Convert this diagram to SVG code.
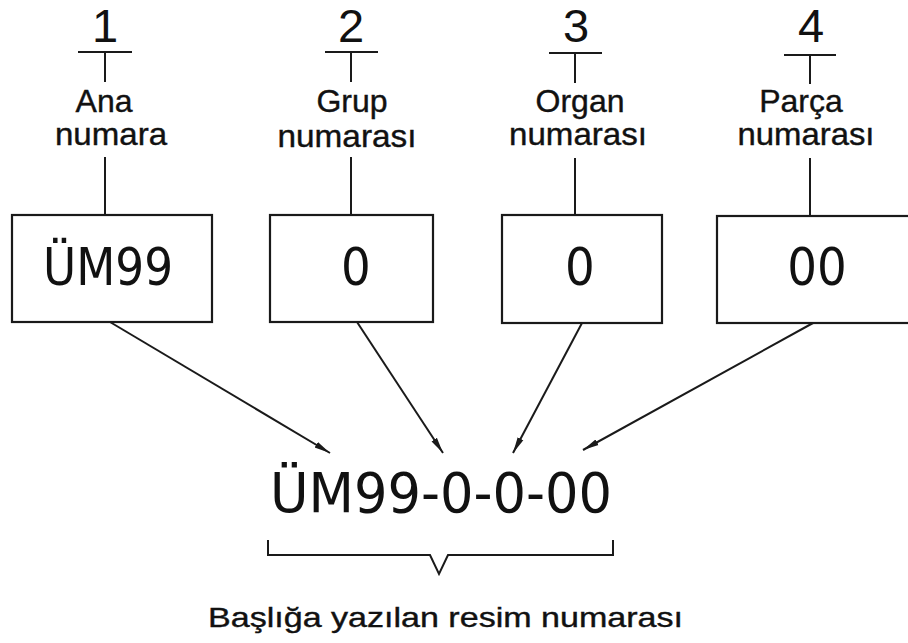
<svg xmlns="http://www.w3.org/2000/svg" width="908" height="643" viewBox="0 0 908 643">
<style>
.ln{stroke:#1a1a1a;stroke-width:2;fill:none}
.box{stroke:#1a1a1a;stroke-width:2.2;fill:#fff}
.num{font-family:"Liberation Sans",Arial,sans-serif;font-size:47px;fill:#111;text-anchor:middle}
.lbl{font-family:"Liberation Sans",Arial,sans-serif;font-size:32px;fill:#111;stroke:#111;stroke-width:0.4;text-anchor:middle}
.code{font-family:"DejaVu Sans Condensed","DejaVu Sans",sans-serif;font-stretch:condensed;fill:#111}
.cap{font-family:"Liberation Sans",Arial,sans-serif;font-size:28px;fill:#111;stroke:#111;stroke-width:0.4}
</style>
<defs>
<marker id="ah" markerUnits="userSpaceOnUse" markerWidth="20" markerHeight="10" refX="16" refY="4" orient="auto">
<path d="M0,0.8 L16,4 L0,7.2 Z" fill="#1a1a1a"/>
</marker>
</defs>
<rect width="908" height="643" fill="#fff"/>
<g id="node1">
<text class="num" x="105" y="42">1</text>
<path class="ln" d="M78 52 H132 M105 52 V82"/>
<text class="lbl" x="104" y="112">Ana</text>
<text class="lbl" x="111" y="145" textLength="112" lengthAdjust="spacingAndGlyphs">numara</text>
<path class="ln" d="M105 157 V215"/>
<rect class="box" x="12" y="215" width="200" height="107"/>
<text class="code" x="43" y="285" font-size="52" textLength="130" lengthAdjust="spacingAndGlyphs">ÜM99</text>
</g>
<g id="node2">
<text class="num" x="351" y="42">2</text>
<path class="ln" d="M325 52 H378 M351 52 V82"/>
<text class="lbl" x="352" y="112">Grup</text>
<text class="lbl" x="347" y="147" textLength="139" lengthAdjust="spacingAndGlyphs">numarası</text>
<path class="ln" d="M351 157 V215"/>
<rect class="box" x="270" y="215" width="163" height="107"/>
<text class="code" x="356" y="285" font-size="52" text-anchor="middle">0</text>
</g>
<g id="node3">
<text class="num" x="576" y="42">3</text>
<path class="ln" d="M549 53 H602 M575 53 V83"/>
<text class="lbl" x="580" y="112">Organ</text>
<text class="lbl" x="578" y="145" textLength="138" lengthAdjust="spacingAndGlyphs">numarası</text>
<path class="ln" d="M575 158 V215"/>
<rect class="box" x="502" y="215" width="160" height="108"/>
<text class="code" x="580" y="285" font-size="52" text-anchor="middle">0</text>
</g>
<g id="node4">
<text class="num" x="811" y="42">4</text>
<path class="ln" d="M784 55 H836 M810 55 V84"/>
<text class="lbl" x="801" y="112">Parça</text>
<text class="lbl" x="806" y="145" textLength="137" lengthAdjust="spacingAndGlyphs">numarası</text>
<path class="ln" d="M810 158 V216"/>
<rect class="box" x="717" y="216" width="195" height="107"/>
<text class="code" x="817" y="285" font-size="52" text-anchor="middle">00</text>
</g>
<g id="connectors">
<line class="ln" x1="110" y1="322" x2="330" y2="453" marker-end="url(#ah)"/>
<line class="ln" x1="357" y1="322" x2="443" y2="453" marker-end="url(#ah)"/>
<line class="ln" x1="582" y1="323" x2="513" y2="453" marker-end="url(#ah)"/>
<line class="ln" x1="813" y1="323" x2="583" y2="450" marker-end="url(#ah)"/>
</g>
<g id="result">
<text class="code" x="270" y="512" font-size="55" textLength="342" lengthAdjust="spacingAndGlyphs">ÜM99-0-0-00</text>
<path class="ln" d="M268 540 V555 H430 L439 574 L448 555 H613 V540"/>
<text class="cap" x="208" y="627" textLength="475" lengthAdjust="spacingAndGlyphs">Başlığa yazılan resim numarası</text>
</g>
</svg>
